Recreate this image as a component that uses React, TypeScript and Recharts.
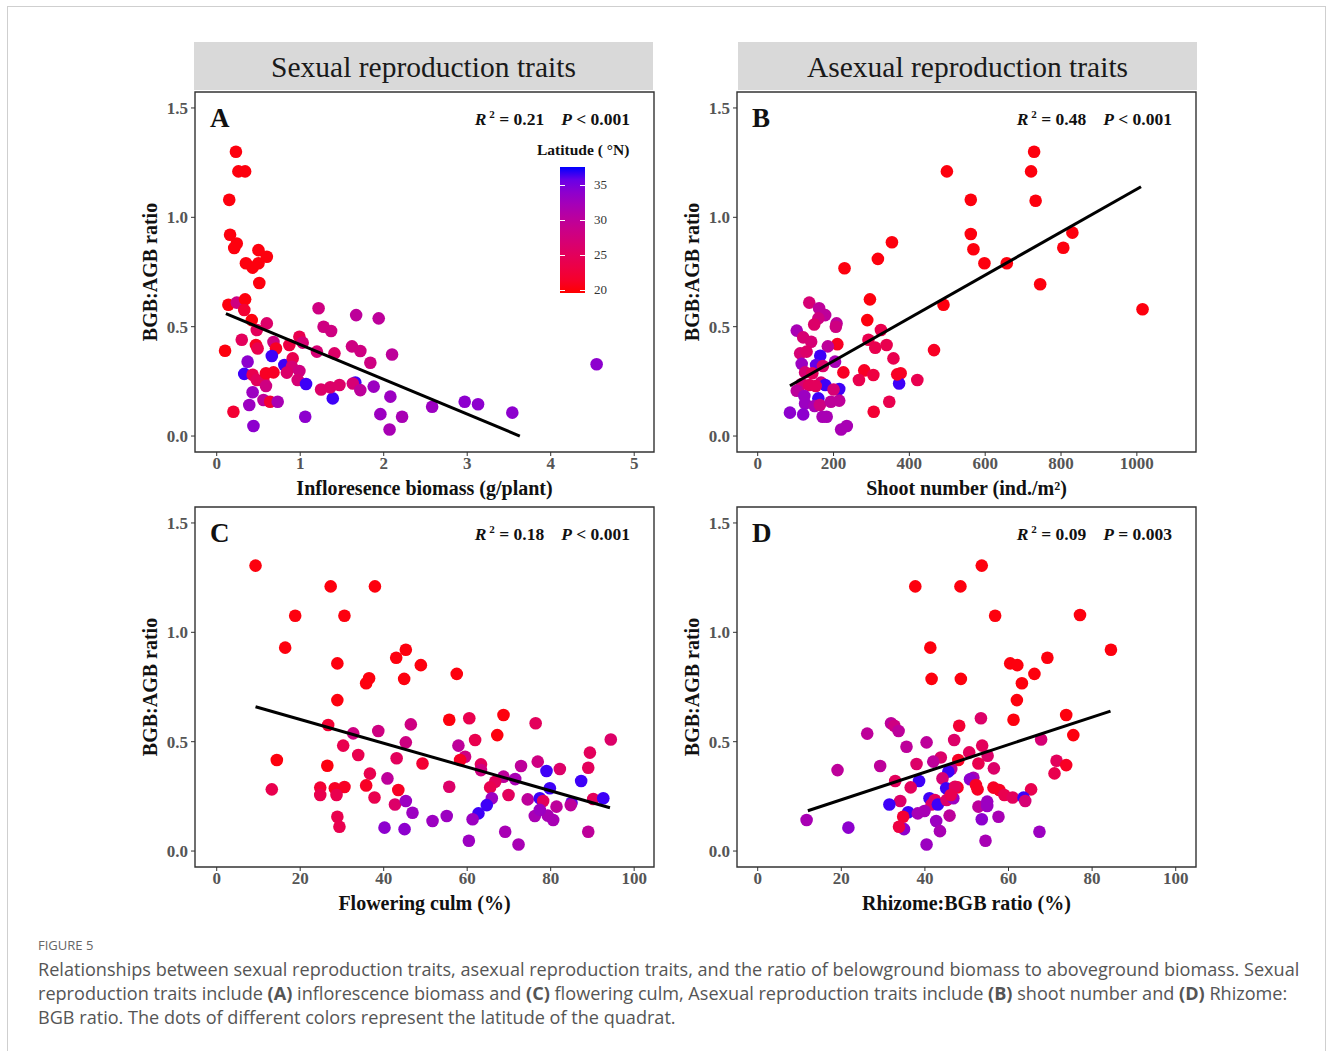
import React from "react";
import { ScatterChart, Scatter, XAxis, YAxis, ReferenceArea } from "recharts";

// [x, y, latitude]
const pointsA: [number, number, number][] = [
  [0.23, 1.30, 20], [0.26, 1.21, 20], [0.34, 1.21, 20], [0.15, 1.08, 20], [0.16, 0.92, 20],
  [0.24, 0.88, 20], [0.21, 0.86, 20], [0.50, 0.85, 20], [0.60, 0.82, 20], [0.35, 0.79, 20],
  [0.43, 0.77, 20], [0.50, 0.79, 20], [0.51, 0.70, 20], [0.14, 0.60, 20], [0.24, 0.61, 28],
  [0.34, 0.625, 20], [0.33, 0.576, 22], [0.42, 0.53, 20], [0.60, 0.515, 26], [0.48, 0.485, 25],
  [0.30, 0.44, 25], [0.10, 0.39, 20], [0.68, 0.43, 28], [0.47, 0.416, 21], [0.49, 0.40, 24],
  [0.71, 0.40, 21], [0.87, 0.416, 23], [0.99, 0.454, 24], [1.03, 0.427, 27], [0.66, 0.366, 37],
  [0.37, 0.34, 34], [0.33, 0.284, 37], [0.81, 0.325, 37], [0.91, 0.355, 24], [0.90, 0.317, 27],
  [0.84, 0.29, 26], [0.99, 0.297, 28], [0.97, 0.256, 27], [0.43, 0.28, 24], [0.48, 0.256, 25],
  [0.56, 0.253, 25], [0.59, 0.287, 21], [0.68, 0.291, 21], [0.59, 0.229, 28], [0.43, 0.20, 33],
  [0.56, 0.165, 30], [0.64, 0.157, 22], [0.73, 0.157, 32], [0.39, 0.142, 33], [0.20, 0.111, 22],
  [0.44, 0.046, 34], [1.07, 0.238, 37], [1.06, 0.088, 34], [1.20, 0.386, 27], [1.22, 0.584, 28],
  [1.28, 0.50, 28], [1.37, 0.48, 28], [1.41, 0.378, 26], [1.25, 0.213, 26], [1.39, 0.172, 37],
  [1.36, 0.223, 26], [1.47, 0.233, 26], [1.62, 0.41, 28], [1.72, 0.389, 28], [1.67, 0.553, 30],
  [1.66, 0.245, 37], [1.63, 0.24, 27], [1.72, 0.21, 30], [1.84, 0.335, 28], [1.88, 0.226, 33],
  [1.94, 0.538, 30], [2.10, 0.373, 30], [2.08, 0.18, 33], [1.96, 0.10, 33], [2.07, 0.03, 32],
  [2.22, 0.088, 32], [2.58, 0.134, 33], [2.97, 0.157, 34], [3.13, 0.145, 34], [3.54, 0.107, 34],
  [4.55, 0.328, 34],
];

const pointsB: [number, number, number][] = [
  [729, 1.30, 20], [499, 1.21, 20], [721, 1.21, 20], [562, 1.08, 20], [733, 1.076, 20],
  [562, 0.924, 20], [830, 0.93, 20], [354, 0.886, 20], [569, 0.854, 20], [806, 0.861, 20],
  [317, 0.81, 20], [598, 0.79, 20], [657, 0.79, 20], [229, 0.767, 20], [745, 0.694, 20],
  [296, 0.625, 20], [490, 0.60, 20], [1015, 0.58, 20], [289, 0.53, 20], [325, 0.485, 24],
  [292, 0.44, 24], [340, 0.416, 24], [310, 0.404, 24], [210, 0.42, 21], [465, 0.393, 21],
  [358, 0.355, 24], [226, 0.291, 21], [281, 0.30, 21], [305, 0.279, 23], [377, 0.287, 21],
  [373, 0.24, 37], [368, 0.282, 21], [267, 0.256, 24], [421, 0.256, 24], [347, 0.157, 24],
  [306, 0.111, 22], [136, 0.61, 27], [162, 0.584, 30], [178, 0.553, 30], [160, 0.538, 28],
  [149, 0.51, 26], [208, 0.515, 30], [206, 0.50, 28], [103, 0.482, 32], [120, 0.451, 27],
  [141, 0.431, 27], [185, 0.41, 30], [112, 0.378, 27], [129, 0.386, 26], [165, 0.367, 37],
  [204, 0.34, 32], [116, 0.33, 33], [154, 0.325, 36], [172, 0.32, 26], [125, 0.291, 27],
  [144, 0.287, 25], [116, 0.238, 27], [136, 0.233, 25], [167, 0.244, 27], [178, 0.233, 37],
  [153, 0.229, 25], [215, 0.215, 37], [200, 0.213, 27], [103, 0.207, 30], [123, 0.183, 33],
  [160, 0.172, 37], [125, 0.149, 33], [150, 0.137, 32], [164, 0.142, 28], [193, 0.157, 30],
  [215, 0.162, 30], [85, 0.107, 34], [120, 0.099, 34], [171, 0.088, 32], [182, 0.088, 32],
  [220, 0.03, 32], [235, 0.046, 32],
];

const pointsC: [number, number, number][] = [
  [9.3, 1.305, 20], [27.3, 1.21, 20], [37.9, 1.21, 20], [18.8, 1.076, 20], [30.6, 1.076, 20],
  [16.4, 0.93, 20], [45.3, 0.92, 20], [43.0, 0.884, 20], [28.9, 0.858, 20], [48.9, 0.85, 20],
  [57.5, 0.81, 20], [36.5, 0.79, 20], [35.8, 0.767, 20], [44.9, 0.787, 20], [28.9, 0.69, 20],
  [55.7, 0.60, 20], [68.7, 0.622, 20], [60.5, 0.607, 24], [76.4, 0.584, 25], [67.2, 0.53, 20],
  [61.9, 0.508, 24], [94.4, 0.51, 26], [26.7, 0.576, 22], [32.7, 0.538, 28], [38.7, 0.549, 28],
  [46.5, 0.579, 28], [45.3, 0.497, 28], [30.3, 0.482, 24], [33.9, 0.439, 24], [57.9, 0.482, 30],
  [59.5, 0.431, 28], [58.3, 0.416, 21], [89.4, 0.45, 25], [14.4, 0.416, 20], [43.1, 0.424, 25],
  [49.3, 0.40, 22], [26.5, 0.39, 20], [63.3, 0.396, 25], [63.3, 0.37, 28], [72.9, 0.389, 30],
  [76.9, 0.409, 28], [82.2, 0.375, 26], [89.0, 0.381, 25], [79.0, 0.366, 37], [36.7, 0.354, 24],
  [40.9, 0.332, 30], [35.8, 0.30, 21], [24.8, 0.29, 22], [28.3, 0.287, 21], [30.6, 0.293, 21],
  [13.2, 0.282, 24], [43.5, 0.279, 21], [55.7, 0.294, 26], [68.7, 0.34, 30], [71.5, 0.329, 32],
  [66.7, 0.317, 25], [65.5, 0.291, 24], [79.8, 0.287, 37], [87.3, 0.32, 37], [24.8, 0.256, 24],
  [28.7, 0.256, 24], [37.8, 0.245, 24], [69.9, 0.256, 25], [74.5, 0.236, 30], [65.9, 0.241, 33],
  [77.4, 0.241, 37], [78.2, 0.229, 25], [85.0, 0.221, 36], [84.8, 0.21, 30], [90.2, 0.238, 25],
  [92.6, 0.241, 37], [81.4, 0.203, 30], [42.7, 0.213, 26], [45.3, 0.229, 33], [64.7, 0.21, 37],
  [62.7, 0.172, 37], [46.9, 0.175, 33], [55.1, 0.16, 33], [51.7, 0.137, 33], [61.3, 0.145, 33],
  [76.2, 0.16, 32], [79.3, 0.162, 32], [80.6, 0.142, 32], [77.4, 0.188, 33], [28.9, 0.157, 24],
  [29.4, 0.111, 24], [40.2, 0.107, 34], [45.0, 0.10, 34], [69.1, 0.088, 32], [89.0, 0.088, 30],
  [60.4, 0.047, 33], [72.3, 0.03, 32],
];

const pointsD: [number, number, number][] = [
  [53.6, 1.305, 20], [37.7, 1.21, 20], [48.5, 1.21, 20], [56.8, 1.076, 20], [77.1, 1.079, 20],
  [41.3, 0.93, 20], [84.5, 0.92, 20], [69.3, 0.884, 20], [60.4, 0.858, 20], [62.1, 0.85, 20],
  [66.2, 0.81, 20], [41.6, 0.787, 20], [48.6, 0.787, 20], [63.2, 0.767, 20], [62.0, 0.69, 20],
  [73.8, 0.622, 20], [61.2, 0.60, 20], [75.5, 0.53, 20], [53.4, 0.607, 26], [48.2, 0.573, 22],
  [31.9, 0.584, 30], [32.7, 0.573, 28], [33.7, 0.549, 30], [26.2, 0.537, 30], [40.4, 0.497, 30],
  [47.0, 0.508, 26], [53.7, 0.482, 25], [67.8, 0.51, 27], [35.6, 0.477, 30], [50.6, 0.451, 25],
  [55.0, 0.436, 26], [43.8, 0.428, 26], [42.0, 0.409, 30], [48.0, 0.416, 21], [52.8, 0.40, 24],
  [71.5, 0.413, 25], [38.0, 0.398, 26], [29.3, 0.389, 30], [73.8, 0.393, 21], [19.1, 0.37, 30],
  [56.5, 0.378, 26], [46.3, 0.375, 30], [45.6, 0.363, 37], [71.0, 0.355, 24], [51.6, 0.335, 32],
  [50.8, 0.328, 34], [44.2, 0.332, 27], [38.6, 0.32, 37], [32.9, 0.32, 25], [36.6, 0.291, 25],
  [45.1, 0.287, 37], [47.8, 0.291, 21], [47.2, 0.294, 25], [52.2, 0.302, 21], [52.6, 0.282, 21],
  [56.4, 0.29, 21], [57.8, 0.279, 21], [59.0, 0.256, 24], [61.0, 0.245, 25], [65.4, 0.282, 24],
  [63.6, 0.244, 37], [64.0, 0.229, 27], [41.1, 0.241, 37], [42.4, 0.233, 25], [41.6, 0.213, 26],
  [43.1, 0.213, 37], [45.2, 0.233, 26], [46.8, 0.241, 33], [46.2, 0.256, 24], [34.1, 0.229, 26],
  [31.5, 0.213, 37], [36.0, 0.177, 37], [38.3, 0.172, 32], [39.9, 0.183, 32], [52.8, 0.203, 30],
  [54.9, 0.226, 33], [54.9, 0.206, 33], [57.6, 0.157, 32], [45.9, 0.162, 30], [34.8, 0.157, 22],
  [42.7, 0.137, 33], [53.6, 0.145, 34], [35.0, 0.10, 34], [33.8, 0.111, 23], [43.6, 0.091, 32],
  [11.7, 0.142, 32], [21.7, 0.107, 34], [40.4, 0.03, 33], [54.5, 0.047, 32], [67.4, 0.088, 33],
];

// fitted line end points
const fitA: [number, number][] = [[0.11, 0.56], [3.63, 0.0]];
const fitB: [number, number][] = [[85, 0.23], [1011, 1.14]];
const fitC: [number, number][] = [[9.3, 0.66], [94.2, 0.198]];
const fitD: [number, number][] = [[12, 0.184], [84.4, 0.64]];

const yTicks = [0, 0.5, 1.0, 1.5];
const xTicksA = [0, 1, 2, 3, 4, 5];
const xTicksB = [0, 200, 400, 600, 800, 1000];
const xTicksPct = [0, 20, 40, 60, 80, 100];
const latTicks = [20, 25, 30, 35];
const LAT_MIN = 19.6;
const LAT_MAX = 37.6;

const SERIF = "'Liberation Serif', 'Times New Roman', Times, serif";
const Y_DOMAIN: [number, number] = [-0.073, 1.573];
const PLOT_W = 459;
const PLOT_H = 360;
const Y_AXIS_W = 60;
const X_AXIS_H = 43;
const DOT_R = 6.3;

// red -> blue in CIELAB, like ggplot's scale_colour_gradient
const toLin = (c: number) => {
  c /= 255;
  return c <= 0.04045 ? c / 12.92 : Math.pow((c + 0.055) / 1.055, 2.4);
};
const toLab = (r: number, g: number, b: number) => {
  const R = toLin(r), G = toLin(g), B = toLin(b);
  const X = (0.4124 * R + 0.3576 * G + 0.1805 * B) / 0.95047;
  const Y = 0.2126 * R + 0.7152 * G + 0.0722 * B;
  const Z = (0.0193 * R + 0.1192 * G + 0.9505 * B) / 1.08883;
  const f = (t: number) => (t > 0.008856 ? Math.cbrt(t) : 7.787 * t + 16 / 116);
  return [116 * f(Y) - 16, 500 * (f(X) - f(Y)), 200 * (f(Y) - f(Z))];
};
const fromLab = (L: number, a: number, bb: number) => {
  const fy = (L + 16) / 116;
  const fx = fy + a / 500;
  const fz = fy - bb / 200;
  const inv = (f: number) => (f * f * f > 0.008856 ? f * f * f : (f - 16 / 116) / 7.787);
  const X = inv(fx) * 0.95047, Y = inv(fy), Z = inv(fz) * 1.08883;
  const lin = [
    3.2406 * X - 1.5372 * Y - 0.4986 * Z,
    -0.9689 * X + 1.8758 * Y + 0.0415 * Z,
    0.0557 * X - 0.204 * Y + 1.057 * Z,
  ];
  const out = lin.map((c) => {
    const v = c <= 0.0031308 ? 12.92 * c : 1.055 * Math.pow(c, 1 / 2.4) - 0.055;
    return Math.round(Math.min(1, Math.max(0, v)) * 255);
  });
  return `rgb(${out[0]},${out[1]},${out[2]})`;
};
const LAB_LOW = toLab(255, 0, 0);
const LAB_HIGH = toLab(0, 0, 255);
const latColor = (lat: number) => {
  const t = Math.min(1, Math.max(0, (lat - LAT_MIN) / (LAT_MAX - LAT_MIN)));
  return fromLab(
    LAB_LOW[0] + (LAB_HIGH[0] - LAB_LOW[0]) * t,
    LAB_LOW[1] + (LAB_HIGH[1] - LAB_LOW[1]) * t,
    LAB_LOW[2] + (LAB_HIGH[2] - LAB_LOW[2]) * t
  );
};

type PanelCfg = {
  letter: string;
  left: number;
  top: number;
  points: [number, number, number][];
  fit: [number, number][];
  xDomain: [number, number];
  xTicks: number[];
  xTitle: string;
  stat: [string, string, string];
};

const panels: PanelCfg[] = [
  { letter: "A", left: 195, top: 92, points: pointsA, fit: fitA, xDomain: [-0.26, 5.237], xTicks: xTicksA, xTitle: "Infloresence  biomass  (g/plant)", stat: ["0.21", "<", "0.001"] },
  { letter: "B", left: 737, top: 92, points: pointsB, fit: fitB, xDomain: [-54.6, 1156], xTicks: xTicksB, xTitle: "Shoot number (ind./m²)", stat: ["0.48", "<", "0.001"] },
  { letter: "C", left: 195, top: 507, points: pointsC, fit: fitC, xDomain: [-5.2, 104.75], xTicks: xTicksPct, xTitle: "Flowering culm (%)", stat: ["0.18", "<", "0.001"] },
  { letter: "D", left: 737, top: 507, points: pointsD, fit: fitD, xDomain: [-4.95, 104.85], xTicks: xTicksPct, xTitle: "Rhizome:BGB ratio (%)", stat: ["0.09", "=", "0.003"] },
];

const tickStyle = { fill: "#555", fontSize: 17, fontFamily: SERIF, fontWeight: "bold" as const };
const titleStyle = { fill: "#111", fontSize: 20, fontFamily: SERIF, fontWeight: "bold" as const };

const Dot = (props: any) => (
  <circle cx={props.cx} cy={props.cy} r={DOT_R} fill={latColor(props.payload.lat)} />
);

const Panel = ({ cfg }: { cfg: PanelCfg }) => {
  const data = cfg.points.map(([x, y, lat]) => ({ x, y, lat }));
  const fit = cfg.fit.map(([x, y]) => ({ x, y }));
  return (
    <>
      <div style={{ position: "absolute", left: cfg.left - Y_AXIS_W, top: cfg.top - 2 }}>
        <ScatterChart
          width={Y_AXIS_W + PLOT_W + 2}
          height={PLOT_H + X_AXIS_H + 12}
          margin={{ top: 2, right: 2, bottom: 10, left: 0 }}
          style={{ overflow: "visible" }}
        >
          <XAxis
            type="number"
            dataKey="x"
            domain={cfg.xDomain}
            ticks={cfg.xTicks}
            interval={0}
            allowDataOverflow
            axisLine={false}
            tickLine={{ stroke: "#333" }}
            tickSize={4}
            tickMargin={1}
            height={X_AXIS_H}
            tick={tickStyle}
            label={{ value: cfg.xTitle, position: "insideBottom", offset: 0, style: { ...titleStyle, whiteSpace: "pre" } }}
          />
          <YAxis
            type="number"
            dataKey="y"
            domain={Y_DOMAIN}
            ticks={yTicks}
            interval={0}
            allowDataOverflow
            axisLine={false}
            tickLine={{ stroke: "#333" }}
            tickSize={4}
            tickMargin={3}
            width={Y_AXIS_W}
            tick={tickStyle}
            tickFormatter={(v: number) => v.toFixed(1)}
            label={{ value: "BGB:AGB ratio", angle: -90, position: "insideLeft", offset: 15, style: { ...titleStyle, textAnchor: "middle" } }}
          />
          <ReferenceArea
            x1={cfg.xDomain[0]}
            x2={cfg.xDomain[1]}
            y1={Y_DOMAIN[0]}
            y2={Y_DOMAIN[1]}
            fill="none"
            stroke="#333"
            strokeWidth={1.4}
          />
          <Scatter data={data} isAnimationActive={false} shape={Dot} />
          <Scatter
            data={fit}
            isAnimationActive={false}
            line={{ stroke: "#000", strokeWidth: 3 }}
            shape={() => <g />}
          />
        </ScatterChart>
      </div>
      <div
        style={{
          position: "absolute",
          left: cfg.left + 15,
          top: cfg.top + 13,
          fontFamily: SERIF,
          fontWeight: "bold",
          fontSize: 27,
          lineHeight: "27px",
          color: "#111",
        }}
      >
        {cfg.letter}
      </div>
      <div
        style={{
          position: "absolute",
          left: cfg.left,
          top: cfg.top + 18,
          width: 435,
          textAlign: "right",
          fontFamily: SERIF,
          fontWeight: "bold",
          fontSize: 17.5,
          lineHeight: "18px",
          color: "#111",
          whiteSpace: "nowrap",
        }}
      >
        <i>R</i>
        <span style={{ fontSize: 11, position: "relative", top: -7, marginLeft: 3 }}>2</span>
        {" = " + cfg.stat[0]}
        <i style={{ marginLeft: 17 }}>P</i>
        {" " + cfg.stat[1] + " " + cfg.stat[2]}
      </div>
    </>
  );
};

const Strip = ({ left, text }: { left: number; text: string }) => (
  <div
    style={{
      position: "absolute",
      left,
      top: 42,
      width: 459,
      height: 48,
      background: "#d9d9d9",
      fontFamily: SERIF,
      fontSize: 29.5,
      lineHeight: "50px",
      textAlign: "center",
      color: "#1a1a1a",
    }}
  >
    {text}
  </div>
);

const ColorBar = () => {
  const barTop = 167;
  const barH = 126;
  const stops = Array.from({ length: 11 }, (_, i) => {
    const lat = LAT_MIN + ((LAT_MAX - LAT_MIN) * i) / 10;
    return `${latColor(lat)} ${i * 10}%`;
  }).join(", ");
  const yOf = (lat: number) => barTop + barH - ((lat - LAT_MIN) / (LAT_MAX - LAT_MIN)) * barH;
  return (
    <>
      <div
        style={{
          position: "absolute",
          left: 537,
          top: 141,
          fontFamily: SERIF,
          fontWeight: "bold",
          fontSize: 15.5,
          lineHeight: "18px",
          color: "#111",
          whiteSpace: "pre",
        }}
      >
        {"Latitude ( °N)"}
      </div>
      <div
        style={{
          position: "absolute",
          left: 560,
          top: barTop,
          width: 25,
          height: barH,
          background: `linear-gradient(to top, ${stops})`,
        }}
      />
      {latTicks.map((t) => (
        <React.Fragment key={t}>
          <div style={{ position: "absolute", left: 560, top: yOf(t) - 0.5, width: 5, height: 1, background: "#fff" }} />
          <div style={{ position: "absolute", left: 580, top: yOf(t) - 0.5, width: 5, height: 1, background: "#fff" }} />
          <div
            style={{
              position: "absolute",
              left: 594,
              top: yOf(t) - 8,
              fontFamily: SERIF,
              fontSize: 13,
              lineHeight: "16px",
              color: "#333",
            }}
          >
            {t}
          </div>
        </React.Fragment>
      ))}
    </>
  );
};

export default function App() {
  const capFont = "'Open Sans', 'Noto Sans', sans-serif";
  return (
    <div style={{ position: "absolute", left: 0, top: 0, width: 1333, height: 1051, background: "#fff", overflow: "hidden" }}>
      <div style={{ position: "absolute", left: 7, top: 6, width: 1317, height: 1080, border: "1px solid #cfcfcf" }} />
      <Strip left={194} text="Sexual reproduction traits" />
      <Strip left={738} text="Asexual reproduction traits" />
      {panels.map((p) => (
        <Panel key={p.letter} cfg={p} />
      ))}
      <ColorBar />
      <div style={{ position: "absolute", left: 38, top: 937, fontFamily: capFont, fontSize: 13, color: "#666", lineHeight: "16px" }}>
        FIGURE 5
      </div>
      <div
        style={{
          position: "absolute",
          left: 38,
          top: 957,
          fontFamily: capFont,
          fontSize: 18.1,
          lineHeight: "24px",
          color: "#555",
          whiteSpace: "nowrap",
        }}
      >
        Relationships between sexual reproduction traits, asexual reproduction traits, and the ratio of belowground biomass to aboveground biomass. Sexual
        <br />
        reproduction traits include <b>(A)</b> inflorescence biomass and <b>(C)</b> flowering culm, Asexual reproduction traits include <b>(B)</b> shoot number and <b>(D)</b> Rhizome:
        <br />
        BGB ratio. The dots of different colors represent the latitude of the quadrat.
      </div>
    </div>
  );
}
